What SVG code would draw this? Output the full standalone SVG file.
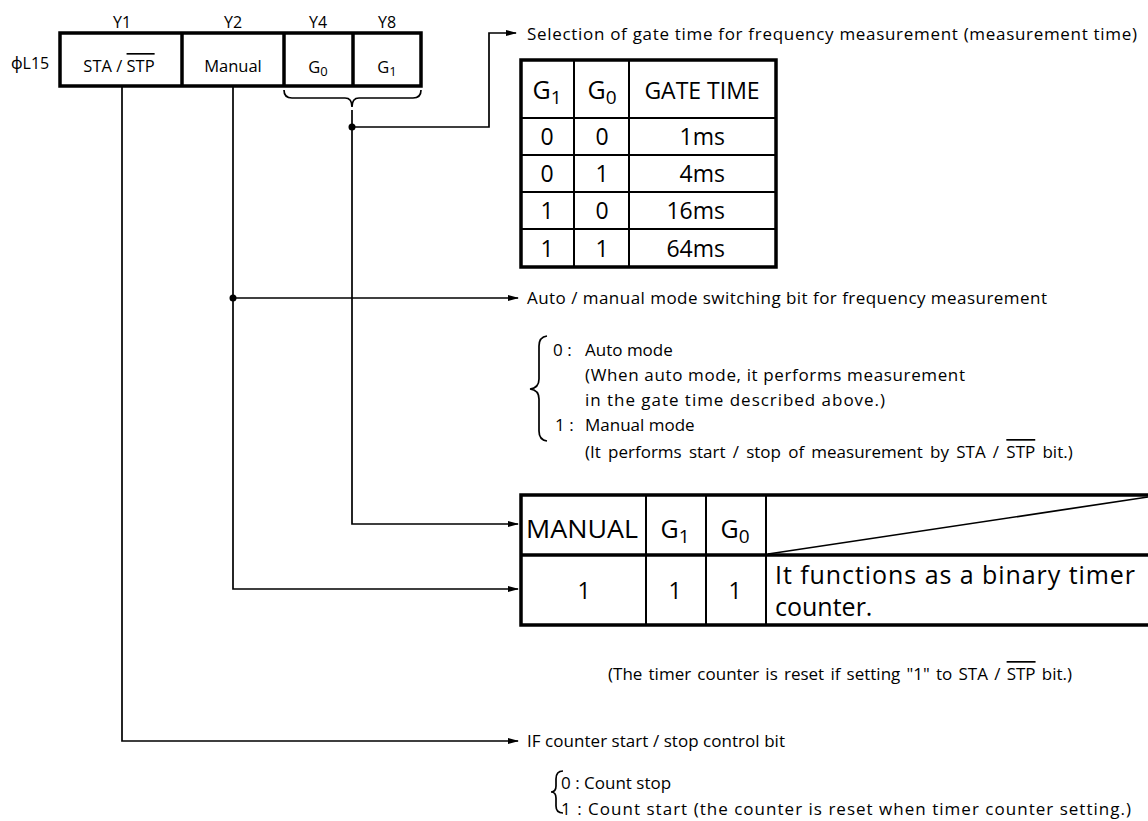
<svg xmlns="http://www.w3.org/2000/svg" width="1148" height="821" viewBox="0 0 1148 821">
<defs>
<style>
text{font-family:"Open Sans","Noto Sans","DejaVu Sans",sans-serif;fill:#000}
.s{font-size:16px}
.m{font-size:17px}
.c{font-size:16.5px}
.t{font-size:23px}
.b{font-size:25px}
.mid{text-anchor:middle}
.end{text-anchor:end}
.thick{fill:none;stroke:#000;stroke-width:3.5}
.thin{fill:none;stroke:#000;stroke-width:2}
.wire{fill:none;stroke:#000;stroke-width:1.7}
.ov{text-decoration:overline}
</style>
<marker id="ah" markerWidth="11" markerHeight="8" refX="10" refY="4" orient="auto" markerUnits="userSpaceOnUse">
<path d="M0,1 L11,4 L0,7 Z" fill="#000"/>
</marker>
</defs>
<rect width="1148" height="821" fill="#fff"/>

<g id="register">
<text class="s mid" x="122" y="28">Y1</text>
<text class="s mid" x="233" y="28">Y2</text>
<text class="s mid" x="318" y="28">Y4</text>
<text class="s mid" x="387" y="28">Y8</text>
<text class="s" x="11" y="69">ϕL15</text>
<rect class="thick" x="60" y="33" width="361" height="53"/>
<line class="thick" x1="182" y1="33" x2="182" y2="86"/>
<line class="thick" x1="284" y1="33" x2="284" y2="86"/>
<line class="thick" x1="353" y1="33" x2="353" y2="86"/>
<text class="c mid" x="119" y="72">STA / <tspan class="ov">STP</tspan></text>
<text class="c mid" x="233" y="72">Manual</text>
<text class="c mid" x="318" y="73" font-size="17">G<tspan font-size="13" dy="3">0</tspan></text>
<text class="c mid" x="387" y="73" font-size="17">G<tspan font-size="13" dy="3">1</tspan></text>
<path class="wire" d="M284,90 Q284,98 292,98 L345,98 Q352,98 352,107 Q352,98 359,98 L413,98 Q421,98 421,90"/>
</g>

<g id="connectors">
<path class="wire" d="M122,86 L122,741 L518,741" marker-end="url(#ah)"/>
<path class="wire" d="M233,86 L233,589 L518,589" marker-end="url(#ah)"/>
<path class="wire" d="M233,298 L518,298" marker-end="url(#ah)"/>
<path class="wire" d="M352,110 L352,524 L518,524" marker-end="url(#ah)"/>
<path class="wire" d="M352,127 L489,127 L489,33 L516,33" marker-end="url(#ah)"/>
<circle cx="352" cy="127" r="3.5" fill="#000"/>
<circle cx="233" cy="298" r="3.5" fill="#000"/>
</g>

<g id="gate-text">
<text class="m" x="527" y="40" textLength="610" lengthAdjust="spacing">Selection of gate time for frequency measurement (measurement time)</text>
</g>

<g id="gate-table">
<rect class="thick" x="521" y="60" width="255" height="207"/>
<line class="thin" x1="574" y1="60" x2="574" y2="267"/>
<line class="thin" x1="629" y1="60" x2="629" y2="267"/>
<line class="thin" x1="521" y1="118" x2="776" y2="118"/>
<line class="thin" x1="521" y1="155" x2="776" y2="155"/>
<line class="thin" x1="521" y1="192" x2="776" y2="192"/>
<line class="thin" x1="521" y1="229" x2="776" y2="229"/>
<text class="mid" font-size="25" x="547" y="99">G<tspan font-size="19" dy="5">1</tspan></text>
<text class="mid" font-size="25" x="602" y="99">G<tspan font-size="19" dy="5">0</tspan></text>
<text class="t mid" x="702" y="99">GATE TIME</text>
<text class="t mid" x="547" y="145">0</text><text class="t mid" x="602" y="145">0</text><text class="t end" x="725" y="145">1ms</text>
<text class="t mid" x="547" y="182">0</text><text class="t mid" x="602" y="182">1</text><text class="t end" x="725" y="182">4ms</text>
<text class="t mid" x="547" y="219">1</text><text class="t mid" x="602" y="219">0</text><text class="t end" x="725" y="219">16ms</text>
<text class="t mid" x="547" y="257">1</text><text class="t mid" x="602" y="257">1</text><text class="t end" x="725" y="257">64ms</text>
</g>

<g id="auto-manual">
<text class="m" x="527" y="304" textLength="520" lengthAdjust="spacing">Auto / manual mode switching bit for frequency measurement</text>
<path class="wire" d="M547,336 Q539,337 539,346 L539,379 Q539,388 530,389 Q539,390 539,399 L539,431 Q539,440 547,441"/>
<text class="m" x="553" y="356">0 :</text>
<text class="m" x="585" y="356">Auto mode</text>
<text class="m" x="585" y="381" textLength="380" lengthAdjust="spacing">(When auto mode, it performs measurement</text>
<text class="m" x="585" y="406" textLength="300" lengthAdjust="spacing">in the gate time described above.)</text>
<text class="m" x="555" y="431">1 :</text>
<text class="m" x="585" y="431">Manual mode</text>
<text class="m" x="585" y="458" word-spacing="2.8">(It performs start / stop of measurement by STA / <tspan class="ov">STP</tspan> bit.)</text>
</g>

<g id="mode-table">
<rect class="thick" x="521" y="495" width="640" height="130"/>
<line class="thick" x1="521" y1="555" x2="1160" y2="555"/>
<line class="thin" x1="646" y1="495" x2="646" y2="625"/>
<line class="thin" x1="706" y1="495" x2="706" y2="625"/>
<line class="thin" x1="766" y1="495" x2="766" y2="625"/>
<line class="wire" x1="768" y1="554" x2="1148" y2="497"/>
<text class="b mid" x="582" y="538" textLength="112" lengthAdjust="spacingAndGlyphs">MANUAL</text>
<text class="b mid" x="675" y="538">G<tspan font-size="19" dy="5">1</tspan></text>
<text class="b mid" x="735" y="538">G<tspan font-size="19" dy="5">0</tspan></text>
<text class="t mid" x="584" y="599">1</text>
<text class="t mid" x="675" y="599">1</text>
<text class="t mid" x="735" y="599">1</text>
<text class="b" x="775" y="584" textLength="360" lengthAdjust="spacing">It functions as a binary timer</text>
<text class="b" x="775" y="616">counter.</text>
</g>

<g id="reset-note">
<text class="m" x="608" y="680" word-spacing="1.8">(The timer counter is reset if setting "1" to STA / <tspan class="ov">STP</tspan> bit.)</text>
</g>

<g id="if-counter">
<text class="m" x="527" y="747" textLength="258" lengthAdjust="spacing">IF counter start / stop control bit</text>
<path class="wire" d="M563,771 Q556,771 556,779 L556,786 Q556,792 551,792 Q556,792 556,798 L556,806 Q556,813 563,813"/>
<text class="m" x="561" y="789">0 : Count stop</text>
<text class="m" x="561" y="815" textLength="570" lengthAdjust="spacing">1 : Count start (the counter is reset when timer counter setting.)</text>
</g>
</svg>
